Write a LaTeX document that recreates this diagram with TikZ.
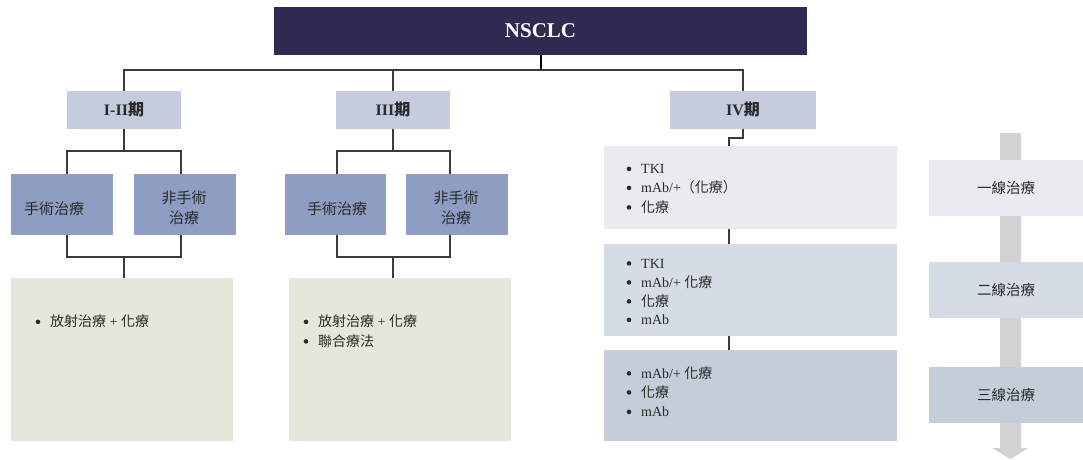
\documentclass[tikz,border=0pt]{standalone}
\usepackage{fontspec}
\setmainfont{Liberation Serif}
\newfontfamily\cjk{Noto Sans CJK TC}
\definecolor{navy}{HTML}{2D2B52}
\definecolor{stagec}{HTML}{C4CCDE}
\definecolor{groupc}{HTML}{8E9DC2}
\definecolor{beige}{HTML}{E6E6DA}
\definecolor{ivone}{HTML}{E8ECF0}
\definecolor{ivtwo}{HTML}{D5DCE5}
\definecolor{ivthree}{HTML}{C3CED8}
\definecolor{barc}{HTML}{D3D1D3}
\definecolor{linec}{HTML}{3A3A3A}
\definecolor{txtc}{HTML}{2A2A2A}
\newcommand{\itm}[4]{%
  \fill[txtc] (#2+2.5,#3-4.6) circle (2.3pt);
  \node[item] (#1) at (#2+14.5,#3) {#4};}
\begin{document}
\begin{tikzpicture}[x=1pt,y=-1pt,
  box/.style={draw=none, inner sep=0pt, align=center},
  stagebox/.style={box, fill=stagec, minimum height=38pt, text=txtc, font=\fontsize{16}{18}\selectfont\bfseries},
  groupbox/.style={box, fill=groupc, minimum width=102pt, minimum height=61pt, text=txtc, font=\fontsize{15}{20}\selectfont\cjk},
  linebox/.style={box, minimum width=154pt, minimum height=56pt, text=txtc, font=\fontsize{14.5}{18}\selectfont\cjk},
  item/.style={inner sep=0pt, anchor=base west, text=txtc, font=\fontsize{14}{17}\selectfont},
  conn/.style={draw=linec, line width=1.1pt}]
\useasboundingbox (0,0) rectangle (1083,459);
% root
\node[box, fill=navy, minimum width=533pt, minimum height=48pt, text=white, font=\fontsize{21}{24}\selectfont\bfseries] (root) at (540.5,31) {NSCLC};
% stages
\node[stagebox, minimum width=114pt] (s1) at (124,110) {I-II{\cjk 期}};
\node[stagebox, minimum width=114pt] (s3) at (393,110) {III{\cjk 期}};
\node[stagebox, minimum width=146pt] (s4) at (743,110) {IV{\cjk 期}};
% groups
\node[groupbox] (a1) at (62,204.5) {};
\node[groupbox] (a2) at (185,204.5) {};
\node[groupbox, minimum width=101pt] (a3) at (335.5,204.5) {};
\node[groupbox] (a4) at (457,204.5) {};
\node[groupbox, fill=none, minimum width=0pt, minimum height=0pt] (a1t) at (54,209) {手術治療};
\node[groupbox, fill=none, minimum width=0pt, minimum height=0pt] (a2t) at (184,207.5) {非手術\\治療};
\node[groupbox, fill=none, minimum width=0pt, minimum height=0pt] (a3t) at (337,209) {手術治療};
\node[groupbox, fill=none, minimum width=0pt, minimum height=0pt] (a4t) at (456,207.5) {非手術\\治療};
% bottom boxes
\node[box, fill=beige, minimum width=222pt, minimum height=163pt] (b1) at (122,359.5) {};
\node[box, fill=beige, minimum width=222pt, minimum height=163pt] (b2) at (400,359.5) {};
% IV boxes
\node[box, fill=ivone, minimum width=293pt, minimum height=83pt] (c1) at (750.5,187.5) {};
\node[box, fill=ivtwo, minimum width=293pt, minimum height=92pt] (c2) at (750.5,290) {};
\node[box, fill=ivthree, minimum width=293pt, minimum height=91pt] (c3) at (750.5,395.5) {};
% arrow bar
\fill[barc] (1000,133) rectangle (1021,448);
\fill[barc] (992,448) -- (1028,448) -- (1010.5,459) -- cycle;
\node[linebox, fill=ivone] (l1) at (1006,188) {一線治療};
\node[linebox, fill=ivtwo] (l2) at (1006,290) {二線治療};
\node[linebox, fill=ivthree] (l3) at (1006,395) {三線治療};
% connectors top
\coordinate (h) at (540.5,70);
\draw[conn, line width=2pt, draw=black] (root.south) -- (h);
\draw[conn] (s1.north) |- (h) -| (s4.north);
\draw[conn] (s3.north) -- (s3.north |- h);
% I-II group
\coordinate (j1) at (124,151);
\draw[conn] (s1.south) -- (j1);
\draw[conn] ([xshift=5pt]a1.north) |- (j1) -| ([xshift=-4pt]a2.north);
\coordinate (k1) at (124,257);
\draw[conn] ([xshift=5pt]a1.south) |- (k1) -| ([xshift=-4pt]a2.south);
\draw[conn] (k1) -- (k1 |- b1.north);
% III group
\coordinate (j3) at (393,151);
\draw[conn] (s3.south) -- (j3);
\draw[conn] ([xshift=1.5pt]a3.north) |- (j3) -| ([xshift=-7pt]a4.north);
\coordinate (k3) at (393,257);
\draw[conn] ([xshift=1.5pt]a3.south) |- (k3) -| ([xshift=-7pt]a4.south);
\draw[conn] (k3) -- (k3 |- b2.north);
% IV chain
\coordinate (m) at (743,138);
\draw[conn] (s4.south) -- (m) -| ([xshift=-21.5pt]c1.north);
\draw[conn] ([xshift=-21.5pt]c1.south) -- ([xshift=-21.5pt]c2.north);
\draw[conn] ([xshift=-21.5pt]c2.south) -- ([xshift=-21.5pt]c3.north);
% items
\itm{t1}{35.5}{326.5}{{\cjk 放射治療} + {\cjk 化療}}
\itm{t2}{303.5}{326.5}{{\cjk 放射治療} + {\cjk 化療}}
\itm{t3}{303.5}{346}{{\cjk 聯合療法}}
\itm{u1}{626.5}{173.5}{TKI}
\itm{u2}{626.5}{192.5}{mAb/+{\cjk （化療）}}
\itm{u3}{626.5}{212}{{\cjk 化療}}
\itm{v1}{626.5}{268}{TKI}
\itm{v2}{626.5}{287}{mAb/+ {\cjk 化療}}
\itm{v3}{626.5}{306}{{\cjk 化療}}
\itm{v4}{626.5}{324.5}{mAb}
\itm{w1}{626.5}{378}{mAb/+ {\cjk 化療}}
\itm{w2}{626.5}{397}{{\cjk 化療}}
\itm{w3}{626.5}{416.5}{mAb}
\end{tikzpicture}
\end{document}
